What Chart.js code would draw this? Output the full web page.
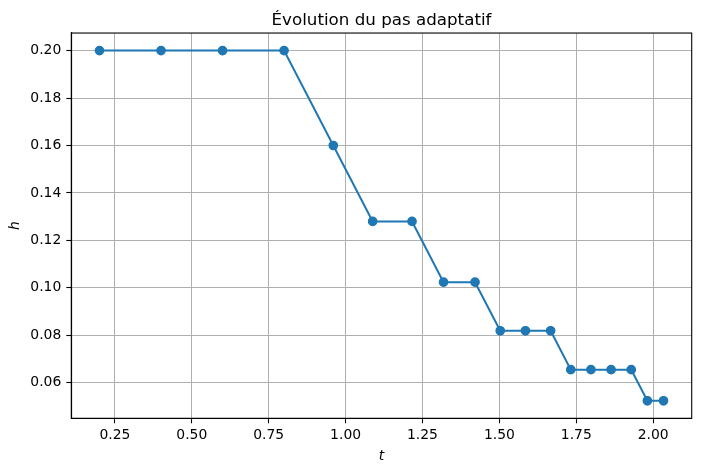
<!DOCTYPE html>
<html>
<head>
<meta charset="utf-8">
<script src="https://cdn.jsdelivr.net/npm/chart.js@4/dist/chart.umd.min.js"></script>
<style>
html,body{margin:0;padding:0;background:#fff;}
#wrap{width:701px;height:471px;}
</style>
</head>
<body>
<div id="wrap"><canvas id="c" width="701" height="471"></canvas></div>
<script>
const tValues = [0.2, 0.4, 0.6, 0.8, 0.96, 1.088, 1.216, 1.3184, 1.4208, 1.50272, 1.58464, 1.66656, 1.732096, 1.797632, 1.863168, 1.928704, 1.9811328, 2.0335616];
const hValues = [0.2, 0.2, 0.2, 0.2, 0.16, 0.128, 0.128, 0.1024, 0.1024, 0.08192, 0.08192, 0.08192, 0.065536, 0.065536, 0.065536, 0.065536, 0.0524288, 0.0524288];
const xTicks = [0.25, 0.50, 0.75, 1.00, 1.25, 1.50, 1.75, 2.00];
const yTicks = [0.06, 0.08, 0.10, 0.12, 0.14, 0.16, 0.18, 0.20];
const titleText = 'Évolution du pas adaptatif';
const xLabel = 't';
const yLabel = 'h';

const points = tValues.map((t, i) => ({x: t, y: hValues[i]}));
const FONT = 'DejaVu Sans';
const blue = '#1f77b4';

const framePlugin = {
  id: 'frame',
  afterDraw(chart) {
    const a = chart.chartArea, ctx = chart.ctx;
    ctx.save();
    ctx.strokeStyle = '#000';
    ctx.lineWidth = 1.1;
    ctx.strokeRect(a.left, a.top, a.right - a.left, a.bottom - a.top);
    ctx.restore();
  }
};

new Chart(document.getElementById('c'), {
  type: 'scatter',
  data: {
    datasets: [{
      data: points,
      showLine: true,
      borderColor: blue,
      backgroundColor: blue,
      borderWidth: 2,
      pointRadius: 4.2,
      pointHoverRadius: 4.2,
      pointBorderWidth: 1.3,
      pointBorderColor: blue
    }]
  },
  options: {
    responsive: false,
    animation: false,
    layout: {padding: {left: 0, right: 9.3, top: 0, bottom: 0}},
    plugins: {
      legend: {display: false},
      tooltip: {enabled: false},
      title: {
        display: true,
        fullSize: false,
        text: titleText,
        color: '#000',
        font: {family: FONT, size: 16.7, weight: 'normal', lineHeight: 1.2},
        padding: {top: 11, bottom: 2}
      }
    },
    scales: {
      x: {
        type: 'linear',
        min: 0.1083,
        max: 2.1252,
        afterFit(s) { s.height = 52.7; },
        afterBuildTicks(s) { s.ticks = xTicks.map(v => ({value: v})); },
        ticks: {
          color: '#000',
          font: {family: FONT, size: 13.9},
          padding: 4,
          maxRotation: 0,
          autoSkip: false,
          callback: v => v.toFixed(2)
        },
        grid: {color: '#b0b0b0', lineWidth: 1, drawTicks: true, tickLength: 5, tickColor: '#000', tickWidth: 1.1},
        border: {display: true, color: '#000', width: 1.1},
        title: {
          display: true,
          text: xLabel,
          color: '#000',
          font: {family: FONT, size: 13.9, style: 'italic'},
          padding: {top: 0, bottom: 6}
        }
      },
      y: {
        type: 'linear',
        min: 0.04505,
        max: 0.20738,
        afterFit(s) { s.width = 71.3; },
        afterBuildTicks(s) { s.ticks = yTicks.map(v => ({value: v})); },
        ticks: {
          color: '#000',
          font: {family: FONT, size: 13.9},
          padding: 5,
          autoSkip: false,
          callback: v => v.toFixed(2)
        },
        grid: {color: '#b0b0b0', lineWidth: 1, drawTicks: true, tickLength: 5, tickColor: '#000', tickWidth: 1.1},
        border: {display: true, color: '#000', width: 1.1},
        title: {
          display: true,
          text: yLabel,
          color: '#000',
          font: {family: FONT, size: 13.9, style: 'italic'},
          padding: {top: 7, bottom: 0}
        }
      }
    }
  },
  plugins: [framePlugin]
});
</script>
</body>
</html>
